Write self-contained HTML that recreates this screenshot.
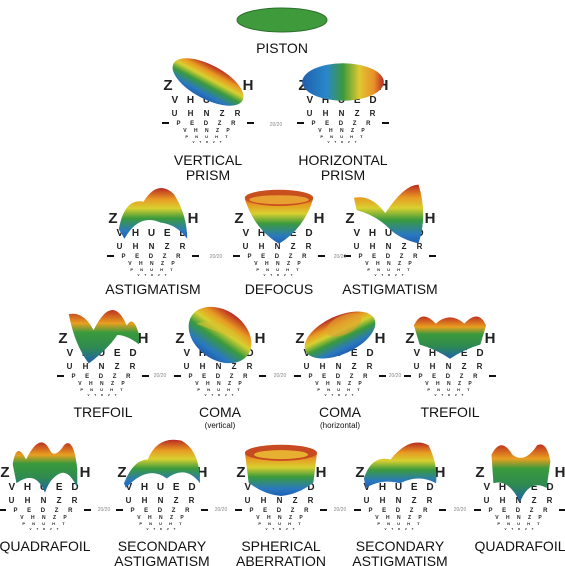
<!DOCTYPE html>
<html><head><meta charset="utf-8"><style>
html,body{margin:0;padding:0;background:#fff;}
svg{display:block;}
text{font-family:"Liberation Sans",sans-serif;}
.lbl{font-size:14px;fill:#111;text-anchor:middle;}
.sub{font-size:8px;fill:#111;text-anchor:middle;}
.ec{font-weight:bold;fill:#222;text-anchor:middle;}
.frac{font-size:5px;fill:#888;text-anchor:middle;}
</style></head><body>
<svg id="s" width="565" height="566" viewBox="0 0 565 566">
<defs>
<linearGradient id="gv" x1="0" y1="0" x2="0" y2="1">
<stop offset="0" stop-color="#b82a22"/><stop offset="0.22" stop-color="#e89a22"/><stop offset="0.4" stop-color="#d8d030"/><stop offset="0.6" stop-color="#3a9a3c"/><stop offset="0.85" stop-color="#2a78c0"/><stop offset="1" stop-color="#1f5fb0"/>
</linearGradient>
<linearGradient id="gh" x1="0" y1="0" x2="1" y2="0">
<stop offset="0" stop-color="#1f5fb0"/><stop offset="0.3" stop-color="#2a88c8"/><stop offset="0.5" stop-color="#3a9a3c"/><stop offset="0.7" stop-color="#e0c830"/><stop offset="0.88" stop-color="#e8902a"/><stop offset="1" stop-color="#b82a22"/>
</linearGradient>
<linearGradient id="gs" x1="0" y1="0" x2="0" y2="1">
<stop offset="0" stop-color="#c03020"/><stop offset="0.25" stop-color="#e8a020"/><stop offset="0.42" stop-color="#3a9a3c"/><stop offset="0.7" stop-color="#2e8a50"/><stop offset="1" stop-color="#1f60b0"/>
</linearGradient>
</defs>
<ellipse cx="282" cy="20" rx="45" ry="12" fill="#3f9a3c" stroke="#2d6e2c"/>
<text class="lbl" x="282" y="53">PISTON</text>
</svg>
<script>
const cells = [
 {cx:208, y:85, lab:["VERTICAL","PRISM"], ly:165, shape:"vprism", name:"vertical-prism", s:0.85},
 {cx:343, y:85, lab:["HORIZONTAL","PRISM"], ly:165, shape:"hprism", name:"horizontal-prism", s:0.85},
 {cx:153, y:218, lab:["ASTIGMATISM"], ly:294, shape:"astig", name:"astigmatism-left", s:0.95},
 {cx:279, y:218, lab:["DEFOCUS"], ly:294, shape:"defocus", name:"defocus", s:0.9},
 {cx:390, y:218, lab:["ASTIGMATISM"], ly:294, shape:"astig2", name:"astigmatism-right", s:0.95},
 {cx:103, y:338, lab:["TREFOIL"], ly:417, shape:"trefoil", name:"trefoil-left", s:0.95},
 {cx:220, y:338, lab:["COMA"], sub:"(vertical)", ly:417, shape:"vcoma", name:"coma-vertical", s:0.95},
 {cx:340, y:338, lab:["COMA"], sub:"(horizontal)", ly:417, shape:"hcoma", name:"coma-horizontal", s:0.95},
 {cx:450, y:338, lab:["TREFOIL"], ly:417, shape:"trefoil2", name:"trefoil-right", s:0.95},
 {cx:45, y:472, lab:["QUADRAFOIL"], ly:551, shape:"quad", name:"quadrafoil-left", s:0.95},
 {cx:162, y:472, lab:["SECONDARY","ASTIGMATISM"], ly:551, shape:"sec", name:"secondary-astigmatism-left", s:0.95},
 {cx:281, y:472, lab:["SPHERICAL","ABERRATION"], ly:551, shape:"sph", name:"spherical-aberration", s:0.9},
 {cx:400, y:472, lab:["SECONDARY","ASTIGMATISM"], ly:551, shape:"sec2", name:"secondary-astigmatism-right", s:0.95},
 {cx:520, y:472, lab:["QUADRAFOIL"], ly:551, shape:"quad2", name:"quadrafoil-right", s:0.95}
];
const fracs = [[276,124],[216,256],[340,256],[160,375],[280,375],[395,375],[104,509],[221,509],[340,509],[460,509]];
const rows = [["V H U E D",10,18,3],["U H N Z R",8,31,4],["P E D Z R",6,40,4],["V H N Z P",5,47,3],["P N U H T",4,53,3],["V T D Z T",3,58,2]];
const NS="http://www.w3.org/2000/svg";
const svg=document.getElementById('s');
function mk(t,a,p){const e=document.createElementNS(NS,t);for(const k in a)e.setAttribute(k,a[k]);(p||svg).appendChild(e);return e;}
const shapes={
 vprism:'<ellipse cx="0" cy="0" rx="46" ry="20" transform="rotate(28)" fill="url(#gv)"/>',
 hprism:'<ellipse cx="0" cy="0" rx="48" ry="22" fill="url(#gh)"/>',
 astig:'<path d="M-36,15 Q-30,-18 -10,-14 Q5,-38 22,-22 Q36,0 36,25 Q25,10 8,8 Q-15,-2 -30,25 Z" fill="url(#gv)"/>',
 astig2:'<path d="M-38,-18 Q-20,-22 -5,-2 Q15,-32 30,-32 Q40,0 30,30 Q10,25 0,15 Q-15,0 -35,-5 Z" fill="url(#gv)"/>',
 defocus:'<path d="M-38,-18 Q0,-30 38,-18 Q28,15 0,32 Q-28,15 -38,-18 Z" fill="url(#gv)"/><ellipse cx="0" cy="-19" rx="38" ry="9" fill="#c8501e"/><ellipse cx="0" cy="-17" rx="33" ry="5" fill="#e8a030"/>',
 trefoil:'<path d="M-36,-22 Q-20,-25 -10,-5 Q10,-45 25,-10 Q32,-22 38,0 L38,10 Q25,0 15,0 Q5,15 -15,30 Q-30,10 -36,-22 Z" fill="url(#gs)"/>',
 trefoil2:'<path d="M-38,-10 Q-30,-28 -15,-12 Q0,-25 15,-12 Q30,-28 38,-10 L32,10 Q15,15 0,25 Q-15,15 -32,10 Z" fill="url(#gs)"/>',
 vcoma:'<ellipse cx="0" cy="0" rx="36" ry="26" transform="rotate(35)" fill="url(#gv)"/><path d="M-25,-12 Q0,-20 25,5 Q5,0 -25,-12 Z" fill="#d8c030" opacity="0.6"/>',
 hcoma:'<ellipse cx="0" cy="0" rx="40" ry="20" transform="rotate(-25)" fill="url(#gv)"/><ellipse cx="8" cy="-8" rx="20" ry="10" transform="rotate(-25)" fill="#e0a030" opacity="0.6"/>',
 quad:'<path d="M-34,-5 Q-30,-30 -20,-10 Q-5,-40 5,-20 Q10,-10 20,-25 Q30,-35 34,0 L34,20 Q25,0 15,5 Q5,10 0,25 Q-10,0 -30,15 Z" fill="url(#gs)"/>',
 quad2:'<path d="M-30,-15 Q-20,-35 -8,-15 Q5,-5 18,-25 Q28,-30 32,-8 L28,20 Q10,10 0,35 Q-12,10 -28,15 Z" fill="url(#gs)"/>',
 sec:'<path d="M-40,15 Q-30,-10 -15,-10 Q-5,-35 20,-30 Q40,-20 40,15 Q25,-5 5,10 Q-15,-5 -38,20 Z" fill="url(#gv)"/>',
 sec2:'<path d="M-38,10 Q-30,-15 -10,-10 Q10,-35 30,-25 Q40,-5 38,15 Q20,5 0,15 Q-20,10 -36,20 Z" fill="url(#gv)"/>',
 sph:'<path d="M-40,-18 Q0,-28 40,-18 L36,15 Q20,28 0,30 Q-20,28 -36,15 Z" fill="url(#gv)"/><ellipse cx="0" cy="-18" rx="40" ry="9" fill="#c84a20"/><ellipse cx="0" cy="-16" rx="30" ry="5" fill="#e8b030"/>'
};
cells.forEach(c=>{
 const g=mk('g',{transform:`translate(${c.cx},${c.y})`});
 
 
 const z=mk('text',{class:'ec',x:-40,y:5,'font-size':15},g);
 z.textContent='Z';
 
 
 const h=mk('text',{class:'ec',x:40,y:5,'font-size':15},g);
 h.textContent='H';
 
 
 rows.forEach((r,i)=>{
  const t=mk('text',{class:'ec',x:0,y:r[2],'font-size':r[1],'letter-spacing':r[3]},g);
  t.textContent=r[0];
  
  
 });
 mk('rect',{x:-46,y:37,width:7,height:2,fill:'#111'},g);
 mk('rect',{x:39,y:37,width:7,height:2,fill:'#111'},g);
 const sg=mk('g',{transform:`translate(0,-3) scale(${c.s})`},g);
 sg.innerHTML=shapes[c.shape];
 
 
 c.lab.forEach((l,i)=>{
  const t=mk('text',{class:'lbl',x:c.cx,y:c.ly+i*15});
  t.textContent=l;
  
  
 });
 if(c.sub){
  const t=mk('text',{class:'sub',x:c.cx,y:c.ly+11});
  t.textContent=c.sub;
  
  
 }
});
fracs.forEach(f=>{
 const t=mk('text',{class:'frac',x:f[0],y:f[1]+2});
 t.textContent='20/20';
 
 
});
</script>
</body></html>
